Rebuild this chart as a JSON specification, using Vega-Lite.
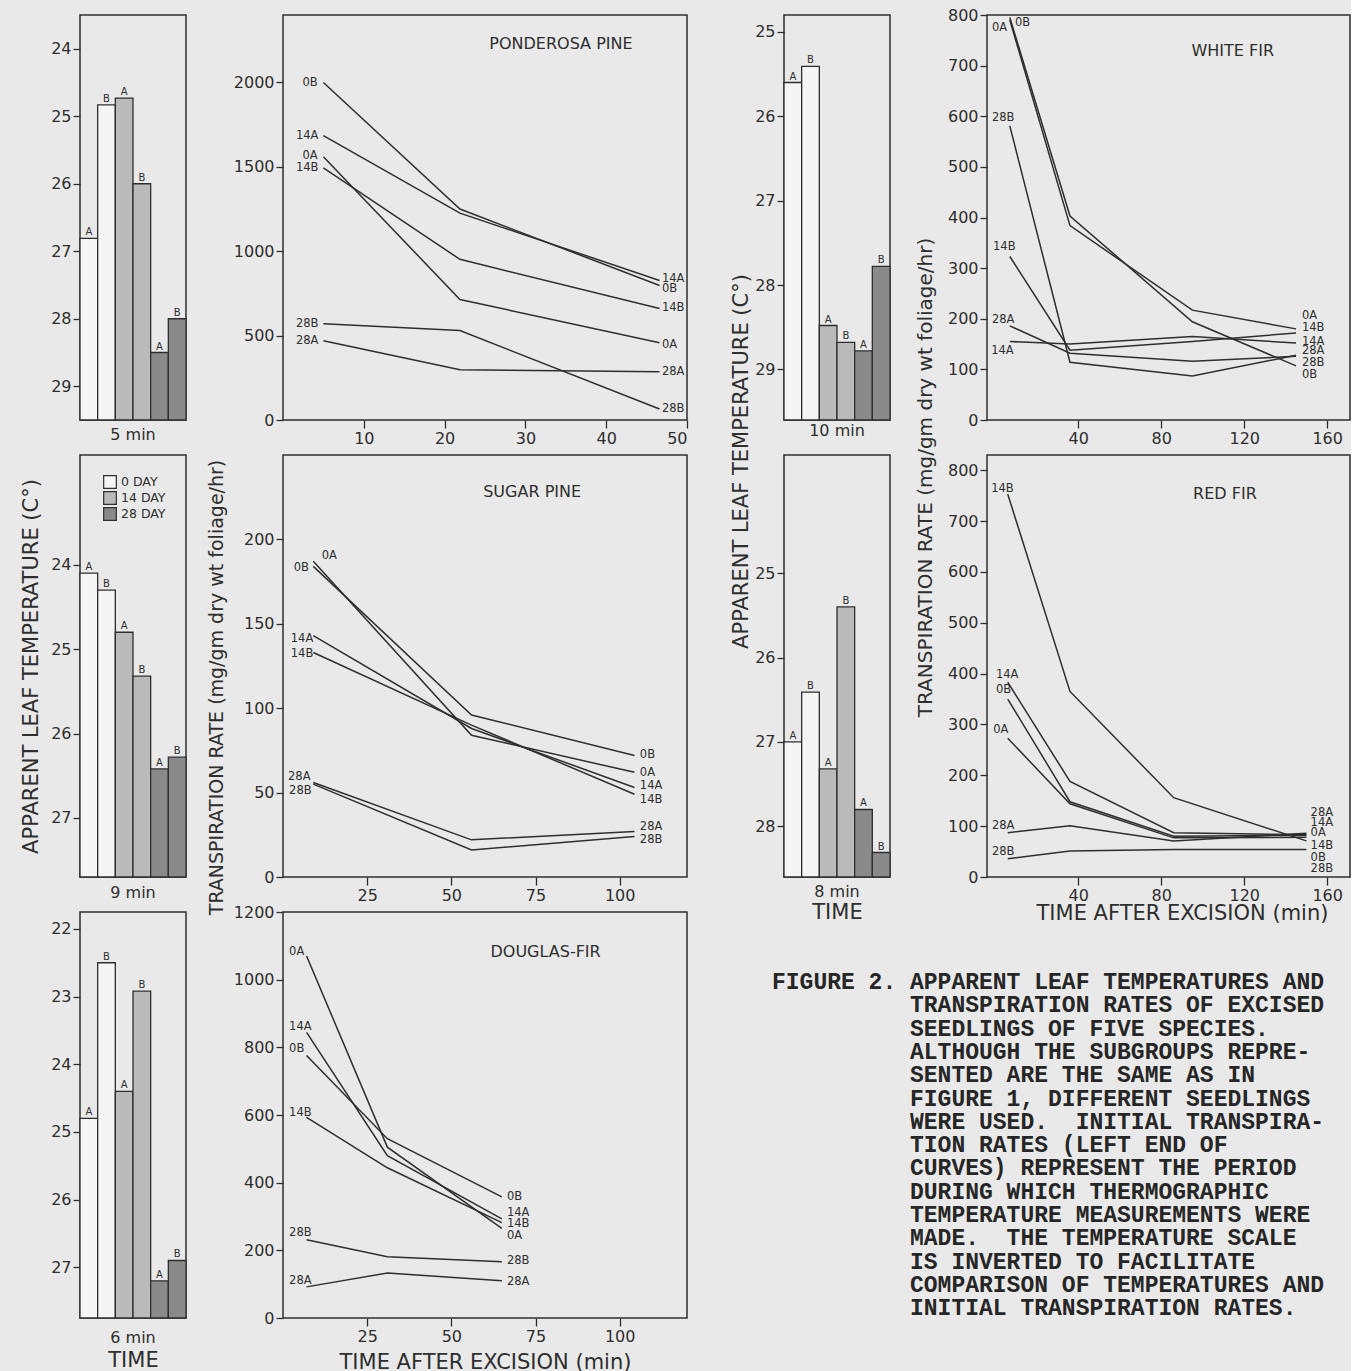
{
  "$schema": "https://vega.github.io/schema/vega-lite/v6.json",
  "padding": {"left": 19, "top": 6, "right": 0, "bottom": 0},
  "config": {
    "background": "#e9e9e9",
    "view": {"stroke": "#2e2e2e", "strokeWidth": 1.5, "fill": null},
    "axis": {"domain": false, "grid": false, "tickColor": "#2e2e2e", "tickWidth": 1.3, "labelColor": "#2e2e2e", "titleColor": "#2e2e2e", "labelFont": "DejaVu Sans", "titleFont": "DejaVu Sans", "titleFontWeight": "normal", "labelFontSize": 16, "titleFontSize": 21, "labelOverlap": false},
    "text": {"font": "DejaVu Sans", "color": "#2e2e2e"}
  },
  "datasets": {
    "bars": [
      {"sp": "PP", "dur": "5 min", "id": "0A", "day": "0 DAY", "sub": "A", "t": 26.81},
      {"sp": "PP", "dur": "5 min", "id": "0B", "day": "0 DAY", "sub": "B", "t": 24.83},
      {"sp": "PP", "dur": "5 min", "id": "14A", "day": "14 DAY", "sub": "A", "t": 24.73},
      {"sp": "PP", "dur": "5 min", "id": "14B", "day": "14 DAY", "sub": "B", "t": 26.0},
      {"sp": "PP", "dur": "5 min", "id": "28A", "day": "28 DAY", "sub": "A", "t": 28.5},
      {"sp": "PP", "dur": "5 min", "id": "28B", "day": "28 DAY", "sub": "B", "t": 28.0},
      {"sp": "SP", "dur": "9 min", "id": "0A", "day": "0 DAY", "sub": "A", "t": 24.1},
      {"sp": "SP", "dur": "9 min", "id": "0B", "day": "0 DAY", "sub": "B", "t": 24.3},
      {"sp": "SP", "dur": "9 min", "id": "14A", "day": "14 DAY", "sub": "A", "t": 24.8},
      {"sp": "SP", "dur": "9 min", "id": "14B", "day": "14 DAY", "sub": "B", "t": 25.32},
      {"sp": "SP", "dur": "9 min", "id": "28A", "day": "28 DAY", "sub": "A", "t": 26.42},
      {"sp": "SP", "dur": "9 min", "id": "28B", "day": "28 DAY", "sub": "B", "t": 26.28},
      {"sp": "DF", "dur": "6 min", "id": "0A", "day": "0 DAY", "sub": "A", "t": 24.8},
      {"sp": "DF", "dur": "6 min", "id": "0B", "day": "0 DAY", "sub": "B", "t": 22.5},
      {"sp": "DF", "dur": "6 min", "id": "14A", "day": "14 DAY", "sub": "A", "t": 24.4},
      {"sp": "DF", "dur": "6 min", "id": "14B", "day": "14 DAY", "sub": "B", "t": 22.92},
      {"sp": "DF", "dur": "6 min", "id": "28A", "day": "28 DAY", "sub": "A", "t": 27.2},
      {"sp": "DF", "dur": "6 min", "id": "28B", "day": "28 DAY", "sub": "B", "t": 26.9},
      {"sp": "WF", "dur": "10 min", "id": "0A", "day": "0 DAY", "sub": "A", "t": 25.6},
      {"sp": "WF", "dur": "10 min", "id": "0B", "day": "0 DAY", "sub": "B", "t": 25.41},
      {"sp": "WF", "dur": "10 min", "id": "14A", "day": "14 DAY", "sub": "A", "t": 28.48},
      {"sp": "WF", "dur": "10 min", "id": "14B", "day": "14 DAY", "sub": "B", "t": 28.68},
      {"sp": "WF", "dur": "10 min", "id": "28A", "day": "28 DAY", "sub": "A", "t": 28.78},
      {"sp": "WF", "dur": "10 min", "id": "28B", "day": "28 DAY", "sub": "B", "t": 27.78},
      {"sp": "RF", "dur": "8 min", "id": "0A", "day": "0 DAY", "sub": "A", "t": 27.0},
      {"sp": "RF", "dur": "8 min", "id": "0B", "day": "0 DAY", "sub": "B", "t": 26.41},
      {"sp": "RF", "dur": "8 min", "id": "14A", "day": "14 DAY", "sub": "A", "t": 27.32},
      {"sp": "RF", "dur": "8 min", "id": "14B", "day": "14 DAY", "sub": "B", "t": 25.4},
      {"sp": "RF", "dur": "8 min", "id": "28A", "day": "28 DAY", "sub": "A", "t": 27.8},
      {"sp": "RF", "dur": "8 min", "id": "28B", "day": "28 DAY", "sub": "B", "t": 28.31}
    ],
    "lines": [
      {"sp": "PP", "s": "0B", "x": 5, "y": 2000}, {"sp": "PP", "s": "0B", "x": 21.9, "y": 1250}, {"sp": "PP", "s": "0B", "x": 46.6, "y": 797},
      {"sp": "PP", "s": "14A", "x": 5, "y": 1685}, {"sp": "PP", "s": "14A", "x": 21.9, "y": 1226}, {"sp": "PP", "s": "14A", "x": 46.6, "y": 827},
      {"sp": "PP", "s": "0A", "x": 5, "y": 1560}, {"sp": "PP", "s": "0A", "x": 21.9, "y": 714}, {"sp": "PP", "s": "0A", "x": 46.6, "y": 458},
      {"sp": "PP", "s": "14B", "x": 5, "y": 1494}, {"sp": "PP", "s": "14B", "x": 21.9, "y": 952}, {"sp": "PP", "s": "14B", "x": 46.6, "y": 661},
      {"sp": "PP", "s": "28B", "x": 5, "y": 571}, {"sp": "PP", "s": "28B", "x": 21.9, "y": 530}, {"sp": "PP", "s": "28B", "x": 46.6, "y": 65},
      {"sp": "PP", "s": "28A", "x": 5, "y": 470}, {"sp": "PP", "s": "28A", "x": 21.9, "y": 298}, {"sp": "PP", "s": "28A", "x": 46.6, "y": 286},
      {"sp": "SP", "s": "0B", "x": 9, "y": 184}, {"sp": "SP", "s": "0B", "x": 56, "y": 96}, {"sp": "SP", "s": "0B", "x": 104.4, "y": 72},
      {"sp": "SP", "s": "0A", "x": 9, "y": 187}, {"sp": "SP", "s": "0A", "x": 56, "y": 84}, {"sp": "SP", "s": "0A", "x": 104.4, "y": 62},
      {"sp": "SP", "s": "14A", "x": 9, "y": 143}, {"sp": "SP", "s": "14A", "x": 56, "y": 88}, {"sp": "SP", "s": "14A", "x": 104.4, "y": 53},
      {"sp": "SP", "s": "14B", "x": 9, "y": 133}, {"sp": "SP", "s": "14B", "x": 56, "y": 90}, {"sp": "SP", "s": "14B", "x": 104.4, "y": 49},
      {"sp": "SP", "s": "28A", "x": 9, "y": 56}, {"sp": "SP", "s": "28A", "x": 56, "y": 22}, {"sp": "SP", "s": "28A", "x": 104.4, "y": 27},
      {"sp": "SP", "s": "28B", "x": 9, "y": 55}, {"sp": "SP", "s": "28B", "x": 56, "y": 16}, {"sp": "SP", "s": "28B", "x": 104.4, "y": 24},
      {"sp": "DF", "s": "0A", "x": 7, "y": 1070}, {"sp": "DF", "s": "0A", "x": 31, "y": 505}, {"sp": "DF", "s": "0A", "x": 65, "y": 265},
      {"sp": "DF", "s": "14A", "x": 7, "y": 844}, {"sp": "DF", "s": "14A", "x": 31, "y": 480}, {"sp": "DF", "s": "14A", "x": 65, "y": 293},
      {"sp": "DF", "s": "0B", "x": 7, "y": 776}, {"sp": "DF", "s": "0B", "x": 31, "y": 530}, {"sp": "DF", "s": "0B", "x": 65, "y": 358},
      {"sp": "DF", "s": "14B", "x": 7, "y": 593}, {"sp": "DF", "s": "14B", "x": 31, "y": 444}, {"sp": "DF", "s": "14B", "x": 65, "y": 282},
      {"sp": "DF", "s": "28B", "x": 7, "y": 231}, {"sp": "DF", "s": "28B", "x": 31, "y": 181}, {"sp": "DF", "s": "28B", "x": 65, "y": 166},
      {"sp": "DF", "s": "28A", "x": 7, "y": 92}, {"sp": "DF", "s": "28A", "x": 31, "y": 133}, {"sp": "DF", "s": "28A", "x": 65, "y": 110},
      {"sp": "WF", "s": "0A", "x": 7, "y": 790}, {"sp": "WF", "s": "0A", "x": 36, "y": 384}, {"sp": "WF", "s": "0A", "x": 95, "y": 217}, {"sp": "WF", "s": "0A", "x": 145, "y": 180},
      {"sp": "WF", "s": "0B", "x": 7, "y": 795}, {"sp": "WF", "s": "0B", "x": 36, "y": 403}, {"sp": "WF", "s": "0B", "x": 95, "y": 194}, {"sp": "WF", "s": "0B", "x": 145, "y": 107},
      {"sp": "WF", "s": "28B", "x": 7, "y": 581}, {"sp": "WF", "s": "28B", "x": 36, "y": 114}, {"sp": "WF", "s": "28B", "x": 95, "y": 87}, {"sp": "WF", "s": "28B", "x": 145, "y": 128},
      {"sp": "WF", "s": "14B", "x": 7, "y": 323}, {"sp": "WF", "s": "14B", "x": 36, "y": 138}, {"sp": "WF", "s": "14B", "x": 95, "y": 155}, {"sp": "WF", "s": "14B", "x": 145, "y": 172},
      {"sp": "WF", "s": "14A", "x": 7, "y": 155}, {"sp": "WF", "s": "14A", "x": 36, "y": 150}, {"sp": "WF", "s": "14A", "x": 95, "y": 165}, {"sp": "WF", "s": "14A", "x": 145, "y": 152},
      {"sp": "WF", "s": "28A", "x": 7, "y": 186}, {"sp": "WF", "s": "28A", "x": 36, "y": 132}, {"sp": "WF", "s": "28A", "x": 95, "y": 116}, {"sp": "WF", "s": "28A", "x": 145, "y": 126},
      {"sp": "RF", "s": "14B", "x": 6, "y": 753}, {"sp": "RF", "s": "14B", "x": 36, "y": 365}, {"sp": "RF", "s": "14B", "x": 86, "y": 156}, {"sp": "RF", "s": "14B", "x": 150, "y": 71},
      {"sp": "RF", "s": "14A", "x": 6, "y": 383}, {"sp": "RF", "s": "14A", "x": 36, "y": 188}, {"sp": "RF", "s": "14A", "x": 86, "y": 87}, {"sp": "RF", "s": "14A", "x": 150, "y": 83},
      {"sp": "RF", "s": "0B", "x": 6, "y": 350}, {"sp": "RF", "s": "0B", "x": 36, "y": 148}, {"sp": "RF", "s": "0B", "x": 86, "y": 80}, {"sp": "RF", "s": "0B", "x": 150, "y": 82},
      {"sp": "RF", "s": "0A", "x": 6, "y": 273}, {"sp": "RF", "s": "0A", "x": 36, "y": 144}, {"sp": "RF", "s": "0A", "x": 86, "y": 77}, {"sp": "RF", "s": "0A", "x": 150, "y": 78},
      {"sp": "RF", "s": "28A", "x": 6, "y": 87}, {"sp": "RF", "s": "28A", "x": 36, "y": 101}, {"sp": "RF", "s": "28A", "x": 86, "y": 71}, {"sp": "RF", "s": "28A", "x": 150, "y": 86},
      {"sp": "RF", "s": "28B", "x": 6, "y": 36}, {"sp": "RF", "s": "28B", "x": 36, "y": 51}, {"sp": "RF", "s": "28B", "x": 86, "y": 54}, {"sp": "RF", "s": "28B", "x": 150, "y": 54}
    ],
    "labs": [
      {"sp": "PP", "s": "0B", "x": 2.4, "y": 2000}, {"sp": "PP", "s": "14A", "x": 1.6, "y": 1685}, {"sp": "PP", "s": "0A", "x": 2.4, "y": 1565},
      {"sp": "PP", "s": "14B", "x": 1.6, "y": 1494}, {"sp": "PP", "s": "28B", "x": 1.6, "y": 571}, {"sp": "PP", "s": "28A", "x": 1.6, "y": 470},
      {"sp": "PP", "s": "14A", "x": 46.9, "y": 833}, {"sp": "PP", "s": "0B", "x": 46.9, "y": 774}, {"sp": "PP", "s": "14B", "x": 46.9, "y": 661},
      {"sp": "PP", "s": "0A", "x": 46.9, "y": 446}, {"sp": "PP", "s": "28A", "x": 46.9, "y": 286}, {"sp": "PP", "s": "28B", "x": 46.9, "y": 65},
      {"sp": "SP", "s": "0B", "x": 3.2, "y": 183}, {"sp": "SP", "s": "0A", "x": 11.5, "y": 190}, {"sp": "SP", "s": "14A", "x": 2.3, "y": 141},
      {"sp": "SP", "s": "14B", "x": 2.3, "y": 132}, {"sp": "SP", "s": "28A", "x": 1.5, "y": 59}, {"sp": "SP", "s": "28B", "x": 1.8, "y": 51},
      {"sp": "SP", "s": "0B", "x": 106, "y": 72}, {"sp": "SP", "s": "0A", "x": 106, "y": 61.5}, {"sp": "SP", "s": "14A", "x": 106, "y": 54},
      {"sp": "SP", "s": "14B", "x": 106, "y": 45.6}, {"sp": "SP", "s": "28A", "x": 106, "y": 29.6}, {"sp": "SP", "s": "28B", "x": 106, "y": 21.9},
      {"sp": "DF", "s": "0A", "x": 1.8, "y": 1081}, {"sp": "DF", "s": "14A", "x": 1.8, "y": 859}, {"sp": "DF", "s": "0B", "x": 1.8, "y": 794},
      {"sp": "DF", "s": "14B", "x": 1.8, "y": 607}, {"sp": "DF", "s": "28B", "x": 1.8, "y": 252}, {"sp": "DF", "s": "28A", "x": 1.8, "y": 110},
      {"sp": "DF", "s": "0B", "x": 66.5, "y": 358}, {"sp": "DF", "s": "14A", "x": 66.5, "y": 311}, {"sp": "DF", "s": "14B", "x": 66.5, "y": 278},
      {"sp": "DF", "s": "0A", "x": 66.5, "y": 243}, {"sp": "DF", "s": "28B", "x": 66.5, "y": 169}, {"sp": "DF", "s": "28A", "x": 66.5, "y": 107},
      {"sp": "WF", "s": "0A", "x": -1.6, "y": 775}, {"sp": "WF", "s": "0B", "x": 9.5, "y": 785}, {"sp": "WF", "s": "28B", "x": -1.6, "y": 597},
      {"sp": "WF", "s": "14B", "x": -1.1, "y": 342}, {"sp": "WF", "s": "28A", "x": -1.6, "y": 198}, {"sp": "WF", "s": "14A", "x": -2, "y": 136},
      {"sp": "WF", "s": "0A", "x": 147.8, "y": 205}, {"sp": "WF", "s": "14B", "x": 147.8, "y": 182}, {"sp": "WF", "s": "14A", "x": 147.8, "y": 154},
      {"sp": "WF", "s": "28A", "x": 147.8, "y": 136}, {"sp": "WF", "s": "28B", "x": 147.8, "y": 113}, {"sp": "WF", "s": "0B", "x": 147.8, "y": 89},
      {"sp": "RF", "s": "14B", "x": -2, "y": 763}, {"sp": "RF", "s": "14A", "x": 0.3, "y": 397}, {"sp": "RF", "s": "0B", "x": 0.3, "y": 368},
      {"sp": "RF", "s": "0A", "x": -1, "y": 290}, {"sp": "RF", "s": "28A", "x": -1.6, "y": 101}, {"sp": "RF", "s": "28B", "x": -1.6, "y": 49},
      {"sp": "RF", "s": "28A", "x": 152, "y": 126}, {"sp": "RF", "s": "14A", "x": 152, "y": 107}, {"sp": "RF", "s": "0A", "x": 152, "y": 87},
      {"sp": "RF", "s": "14B", "x": 152, "y": 61}, {"sp": "RF", "s": "0B", "x": 152, "y": 38}, {"sp": "RF", "s": "28B", "x": 152, "y": 16}
    ]
  },
  "concat": [
    {
      "width": 106, "height": 405,
      "data": {"name": "bars"},
      "transform": [{"filter": "datum.sp === 'PP'"}],
      "encoding": {
        "x": {"field": "dur", "type": "nominal", "scale": {"paddingInner": 0, "paddingOuter": 0}, "axis": {"title": null, "ticks": false, "tickSize": 0, "labelPadding": 6, "labelAngle": 0}},
        "xOffset": {"field": "id", "type": "nominal", "sort": ["0A", "0B", "14A", "14B", "28A", "28B"], "scale": {"paddingInner": 0, "paddingOuter": 0}},
        "y": {"field": "t", "type": "quantitative", "scale": {"domain": [23.5, 29.5], "reverse": true, "zero": false, "nice": false}, "axis": {"values": [24, 25, 26, 27, 28, 29], "title": null, "tickSize": 7, "labelPadding": 2}}
      },
      "layer": [
        {"mark": {"type": "bar", "stroke": "#2e2e2e", "strokeWidth": 1.3}, "encoding": {"y2": {"datum": 29.5}, "fill": {"field": "day", "type": "nominal", "scale": {"domain": ["0 DAY", "14 DAY", "28 DAY"], "range": ["#f5f5f5", "#bababa", "#8a8a8a"]}, "legend": null}}},
        {"mark": {"type": "text", "baseline": "bottom", "dy": -1, "fontSize": 10}, "encoding": {"text": {"field": "sub"}}}
      ]
    },
    {
      "width": 404, "height": 405,
      "layer": [
        {"data": {"name": "lines"}, "transform": [{"filter": "datum.sp === 'PP'"}], "mark": {"type": "line", "color": "#2e2e2e", "strokeWidth": 1.5},
         "encoding": {
           "x": {"field": "x", "type": "quantitative", "scale": {"domain": [0, 50], "nice": false, "zero": false}, "axis": {"values": [10, 20, 30, 40, 50], "title": null, "tickSize": 8, "labelPadding": 2}},
           "y": {"field": "y", "type": "quantitative", "scale": {"domain": [0, 2400], "nice": false}, "axis": {"values": [0, 500, 1000, 1500, 2000], "format": "d", "title": null, "tickSize": 7, "labelPadding": 2}},
           "detail": {"field": "s"}}},
        {"data": {"name": "labs"}, "transform": [{"filter": "datum.sp === 'PP'"}], "mark": {"type": "text", "align": "left", "baseline": "middle", "fontSize": 11.5},
         "encoding": {"x": {"field": "x", "type": "quantitative"}, "y": {"field": "y", "type": "quantitative"}, "text": {"field": "s"}}},
        {"data": {"values": [{"name": "PONDEROSA PINE"}]}, "mark": {"type": "text", "fontSize": 16, "align": "center", "baseline": "middle"},
         "encoding": {"x": {"datum": 34.4}, "y": {"datum": 2226}, "text": {"field": "name"}}}
      ]
    },
    {
      "width": 106, "height": 405,
      "data": {"name": "bars"},
      "transform": [{"filter": "datum.sp === 'WF'"}],
      "encoding": {
        "x": {"field": "dur", "type": "nominal", "scale": {"paddingInner": 0, "paddingOuter": 0}, "axis": {"title": null, "ticks": false, "tickSize": 0, "labelPadding": 2, "labelAngle": 0}},
        "xOffset": {"field": "id", "type": "nominal", "sort": ["0A", "0B", "14A", "14B", "28A", "28B"], "scale": {"paddingInner": 0, "paddingOuter": 0}},
        "y": {"field": "t", "type": "quantitative", "scale": {"domain": [24.8, 29.6], "reverse": true, "zero": false, "nice": false}, "axis": {"values": [25, 26, 27, 28, 29], "title": "APPARENT LEAF TEMPERATURE (C°)", "titleX": -33, "titleY": 446, "tickSize": 7, "labelPadding": 2}}
      },
      "layer": [
        {"mark": {"type": "bar", "stroke": "#2e2e2e", "strokeWidth": 1.3}, "encoding": {"y2": {"datum": 29.6}, "fill": {"field": "day", "type": "nominal", "scale": {"domain": ["0 DAY", "14 DAY", "28 DAY"], "range": ["#f5f5f5", "#bababa", "#8a8a8a"]}, "legend": null}}},
        {"mark": {"type": "text", "baseline": "bottom", "dy": -1, "fontSize": 10}, "encoding": {"text": {"field": "sub"}}}
      ]
    },
    {
      "width": 363, "height": 405,
      "layer": [
        {"data": {"name": "lines"}, "transform": [{"filter": "datum.sp === 'WF'"}], "mark": {"type": "line", "color": "#2e2e2e", "strokeWidth": 1.5},
         "encoding": {
           "x": {"field": "x", "type": "quantitative", "scale": {"domain": [-4, 171], "nice": false, "zero": false}, "axis": {"values": [40, 80, 120, 160], "title": null, "tickSize": 8, "labelPadding": 2}},
           "y": {"field": "y", "type": "quantitative", "scale": {"domain": [0, 800], "nice": false}, "axis": {"values": [0, 100, 200, 300, 400, 500, 600, 700, 800], "format": "d", "title": "TRANSPIRATION RATE (mg/gm dry wt foliage/hr)", "titleFontSize": 20, "titleX": -52, "titleY": 462, "tickSize": 7, "labelPadding": 2}},
           "detail": {"field": "s"}}},
        {"data": {"name": "labs"}, "transform": [{"filter": "datum.sp === 'WF'"}], "mark": {"type": "text", "align": "left", "baseline": "middle", "fontSize": 11.5},
         "encoding": {"x": {"field": "x", "type": "quantitative"}, "y": {"field": "y", "type": "quantitative"}, "text": {"field": "s"}}},
        {"data": {"values": [{"name": "WHITE FIR"}]}, "mark": {"type": "text", "fontSize": 16, "align": "center", "baseline": "middle"},
         "encoding": {"x": {"datum": 114.5}, "y": {"datum": 729}, "text": {"field": "name"}}}
      ]
    },
    {
      "width": 106, "height": 422,
      "data": {"name": "bars"},
      "transform": [{"filter": "datum.sp === 'SP'"}],
      "encoding": {
        "x": {"field": "dur", "type": "nominal", "scale": {"paddingInner": 0, "paddingOuter": 0}, "axis": {"title": null, "ticks": false, "tickSize": 0, "labelPadding": 7, "labelAngle": 0}},
        "xOffset": {"field": "id", "type": "nominal", "sort": ["0A", "0B", "14A", "14B", "28A", "28B"], "scale": {"paddingInner": 0, "paddingOuter": 0}},
        "y": {"field": "t", "type": "quantitative", "scale": {"domain": [22.7, 27.7], "reverse": true, "zero": false, "nice": false}, "axis": {"values": [24, 25, 26, 27], "title": "APPARENT LEAF TEMPERATURE (C°)", "titlePadding": 9, "tickSize": 7, "labelPadding": 2}}
      },
      "layer": [
        {"mark": {"type": "bar", "stroke": "#2e2e2e", "strokeWidth": 1.3}, "encoding": {"y2": {"datum": 27.7}, "fill": {"field": "day", "type": "nominal", "scale": {"domain": ["0 DAY", "14 DAY", "28 DAY"], "range": ["#f5f5f5", "#bababa", "#8a8a8a"]},
          "legend": {"title": null, "orient": "top-right", "offset": 20, "symbolType": "square", "symbolSize": 160, "symbolStrokeColor": "#2e2e2e", "symbolStrokeWidth": 1.2, "labelFontSize": 12.5, "labelFont": "DejaVu Sans", "labelColor": "#2e2e2e", "rowPadding": -3, "padding": 0}}}},
        {"mark": {"type": "text", "baseline": "bottom", "dy": -1, "fontSize": 10}, "encoding": {"text": {"field": "sub"}}}
      ]
    },
    {
      "width": 404, "height": 422,
      "layer": [
        {"data": {"name": "lines"}, "transform": [{"filter": "datum.sp === 'SP'"}], "mark": {"type": "line", "color": "#2e2e2e", "strokeWidth": 1.5},
         "encoding": {
           "x": {"field": "x", "type": "quantitative", "scale": {"domain": [0, 120], "nice": false, "zero": false}, "axis": {"values": [25, 50, 75, 100], "title": null, "tickSize": 8, "labelPadding": 2}},
           "y": {"field": "y", "type": "quantitative", "scale": {"domain": [0, 250], "nice": false}, "axis": {"values": [0, 50, 100, 150, 200], "format": "d", "title": "TRANSPIRATION RATE (mg/gm dry wt foliage/hr)", "titleFontSize": 19, "titleX": -57, "titleY": 232, "tickSize": 7, "labelPadding": 2}},
           "detail": {"field": "s"}}},
        {"data": {"name": "labs"}, "transform": [{"filter": "datum.sp === 'SP'"}], "mark": {"type": "text", "align": "left", "baseline": "middle", "fontSize": 11.5},
         "encoding": {"x": {"field": "x", "type": "quantitative"}, "y": {"field": "y", "type": "quantitative"}, "text": {"field": "s"}}},
        {"data": {"values": [{"name": "SUGAR PINE"}]}, "mark": {"type": "text", "fontSize": 16, "align": "center", "baseline": "middle"},
         "encoding": {"x": {"datum": 74}, "y": {"datum": 228}, "text": {"field": "name"}}}
      ]
    },
    {
      "width": 106, "height": 422,
      "data": {"name": "bars"},
      "transform": [{"filter": "datum.sp === 'RF'"}],
      "encoding": {
        "x": {"field": "dur", "type": "nominal", "scale": {"paddingInner": 0, "paddingOuter": 0}, "axis": {"title": "TIME", "titlePadding": 2, "ticks": false, "tickSize": 0, "labelPadding": 6, "labelAngle": 0}},
        "xOffset": {"field": "id", "type": "nominal", "sort": ["0A", "0B", "14A", "14B", "28A", "28B"], "scale": {"paddingInner": 0, "paddingOuter": 0}},
        "y": {"field": "t", "type": "quantitative", "scale": {"domain": [23.6, 28.6], "reverse": true, "zero": false, "nice": false}, "axis": {"values": [25, 26, 27, 28], "title": null, "tickSize": 7, "labelPadding": 2}}
      },
      "layer": [
        {"mark": {"type": "bar", "stroke": "#2e2e2e", "strokeWidth": 1.3}, "encoding": {"y2": {"datum": 28.6}, "fill": {"field": "day", "type": "nominal", "scale": {"domain": ["0 DAY", "14 DAY", "28 DAY"], "range": ["#f5f5f5", "#bababa", "#8a8a8a"]}, "legend": null}}},
        {"mark": {"type": "text", "baseline": "bottom", "dy": -1, "fontSize": 10}, "encoding": {"text": {"field": "sub"}}}
      ]
    },
    {
      "width": 363, "height": 422,
      "layer": [
        {"data": {"name": "lines"}, "transform": [{"filter": "datum.sp === 'RF'"}], "mark": {"type": "line", "color": "#2e2e2e", "strokeWidth": 1.5},
         "encoding": {
           "x": {"field": "x", "type": "quantitative", "scale": {"domain": [-4, 171], "nice": false, "zero": false}, "axis": {"values": [40, 80, 120, 160], "title": "TIME AFTER EXCISION (min)", "titleX": 195, "titleY": 25, "tickSize": 8, "labelPadding": 2}},
           "y": {"field": "y", "type": "quantitative", "scale": {"domain": [0, 830], "nice": false}, "axis": {"values": [0, 100, 200, 300, 400, 500, 600, 700, 800], "format": "d", "title": null, "tickSize": 7, "labelPadding": 2}},
           "detail": {"field": "s"}}},
        {"data": {"name": "labs"}, "transform": [{"filter": "datum.sp === 'RF'"}], "mark": {"type": "text", "align": "left", "baseline": "middle", "fontSize": 11.5},
         "encoding": {"x": {"field": "x", "type": "quantitative"}, "y": {"field": "y", "type": "quantitative"}, "text": {"field": "s"}}},
        {"data": {"values": [{"name": "RED FIR"}]}, "mark": {"type": "text", "fontSize": 16, "align": "center", "baseline": "middle"},
         "encoding": {"x": {"datum": 110.7}, "y": {"datum": 753}, "text": {"field": "name"}}}
      ]
    },
    {
      "width": 106, "height": 406,
      "data": {"name": "bars"},
      "transform": [{"filter": "datum.sp === 'DF'"}],
      "encoding": {
        "x": {"field": "dur", "type": "nominal", "scale": {"paddingInner": 0, "paddingOuter": 0}, "axis": {"title": "TIME", "titlePadding": 4, "ticks": false, "tickSize": 0, "labelPadding": 11, "labelAngle": 0}},
        "xOffset": {"field": "id", "type": "nominal", "sort": ["0A", "0B", "14A", "14B", "28A", "28B"], "scale": {"paddingInner": 0, "paddingOuter": 0}},
        "y": {"field": "t", "type": "quantitative", "scale": {"domain": [21.75, 27.75], "reverse": true, "zero": false, "nice": false}, "axis": {"values": [22, 23, 24, 25, 26, 27], "title": null, "tickSize": 7, "labelPadding": 2}}
      },
      "layer": [
        {"mark": {"type": "bar", "stroke": "#2e2e2e", "strokeWidth": 1.3}, "encoding": {"y2": {"datum": 27.75}, "fill": {"field": "day", "type": "nominal", "scale": {"domain": ["0 DAY", "14 DAY", "28 DAY"], "range": ["#f5f5f5", "#bababa", "#8a8a8a"]}, "legend": null}}},
        {"mark": {"type": "text", "baseline": "bottom", "dy": -1, "fontSize": 10}, "encoding": {"text": {"field": "sub"}}}
      ]
    },
    {
      "width": 404, "height": 406,
      "layer": [
        {"data": {"name": "lines"}, "transform": [{"filter": "datum.sp === 'DF'"}], "mark": {"type": "line", "color": "#2e2e2e", "strokeWidth": 1.5},
         "encoding": {
           "x": {"field": "x", "type": "quantitative", "scale": {"domain": [0, 120], "nice": false, "zero": false}, "axis": {"values": [25, 50, 75, 100], "title": "TIME AFTER EXCISION (min)", "titlePadding": 7, "tickSize": 8, "labelPadding": 2}},
           "y": {"field": "y", "type": "quantitative", "scale": {"domain": [0, 1200], "nice": false}, "axis": {"values": [0, 200, 400, 600, 800, 1000, 1200], "format": "d", "title": null, "tickSize": 7, "labelPadding": 2}},
           "detail": {"field": "s"}}},
        {"data": {"name": "labs"}, "transform": [{"filter": "datum.sp === 'DF'"}], "mark": {"type": "text", "align": "left", "baseline": "middle", "fontSize": 11.5},
         "encoding": {"x": {"field": "x", "type": "quantitative"}, "y": {"field": "y", "type": "quantitative"}, "text": {"field": "s"}}},
        {"data": {"values": [{"name": "DOUGLAS-FIR"}]}, "mark": {"type": "text", "fontSize": 16, "align": "center", "baseline": "middle"},
         "encoding": {"x": {"datum": 78}, "y": {"datum": 1081}, "text": {"field": "name"}}}
      ]
    },
    {
      "width": 106, "height": 406,
      "view": {"stroke": null},
      "data": {"values": [{"caption": "FIGURE 2"}]},
      "encoding": {
        "x": {"datum": 0, "type": "quantitative", "scale": {"domain": [0, 1]}, "axis": null},
        "y": {"datum": 1, "type": "quantitative", "scale": {"domain": [0, 1]}, "axis": null}
      },
      "layer": [
        {
          "mark": {"type": "text", "align": "left", "baseline": "top", "font": "Liberation Mono", "fontSize": 23, "fontWeight": "bold", "color": "#262626", "dx": -12, "dy": 59},
          "encoding": {"text": {"value": "FIGURE 2."}}
        },
        {
          "mark": {"type": "text", "align": "left", "baseline": "top", "font": "Liberation Mono", "fontSize": 23, "fontWeight": "bold", "lineHeight": 23.3, "color": "#262626", "dx": 126, "dy": 59},
          "encoding": {
            "text": {"value": [
              "APPARENT LEAF TEMPERATURES AND",
              "TRANSPIRATION RATES OF EXCISED",
              "SEEDLINGS OF FIVE SPECIES.",
              "ALTHOUGH THE SUBGROUPS REPRE-",
              "SENTED ARE THE SAME AS IN",
              "FIGURE 1, DIFFERENT SEEDLINGS",
              "WERE USED.\u00a0 INITIAL TRANSPIRA-",
              "TION RATES (LEFT END OF",
              "CURVES) REPRESENT THE PERIOD",
              "DURING WHICH THERMOGRAPHIC",
              "TEMPERATURE MEASUREMENTS WERE",
              "MADE.\u00a0 THE TEMPERATURE SCALE",
              "IS INVERTED TO FACILITATE",
              "COMPARISON OF TEMPERATURES AND",
              "INITIAL TRANSPIRATION RATES."
            ]}
          }
        }
      ]
    }
  ],
  "columns": 4,
  "spacing": {"row": 35, "column": 97},
  "bounds": "flush",
  "resolve": {"scale": {"fill": "independent"}, "legend": {"fill": "independent"}}
}
